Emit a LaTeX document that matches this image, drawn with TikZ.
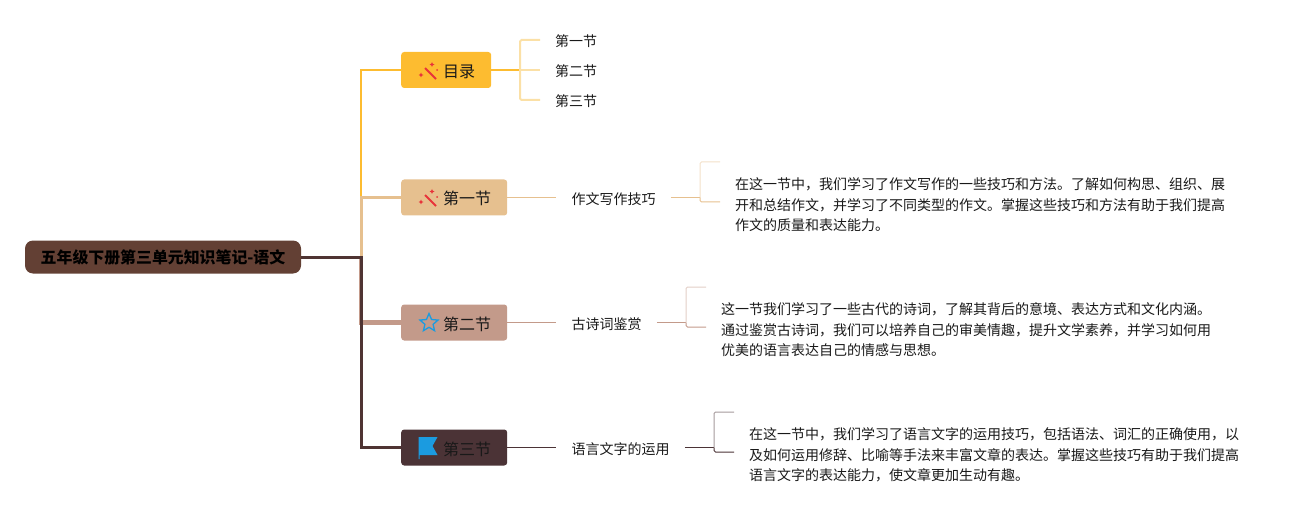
\documentclass[tikz,border=0pt]{standalone}
\usepackage{fontspec}
\usepackage{xcolor}
\usepackage{tikz}
\usetikzlibrary{shapes,positioning}
\setmainfont{Noto Sans CJK SC}
\definecolor{rootbrown}{HTML}{634034}
\definecolor{rootline}{HTML}{4F3433}
\definecolor{muluyellow}{HTML}{FDBC30}
\definecolor{mulupale}{HTML}{FBE0A6}
\definecolor{onetan}{HTML}{E6C08F}
\definecolor{onepale}{HTML}{F3E0C8}
\definecolor{twomauve}{HTML}{C39A8A}
\definecolor{twopale}{HTML}{E2CEC6}
\definecolor{threedark}{HTML}{4B3336}
\definecolor{threepale}{HTML}{A59A9B}
\definecolor{iconred}{HTML}{E8343A}
\definecolor{iconblue}{HTML}{1B9BE0}

\begin{document}
\begin{tikzpicture}[
x=1pt,y=-1pt,
rootnode/.style={rectangle, fill=rootbrown, rounded corners=8pt, minimum width=276pt, minimum height=33pt, inner sep=0pt, text height=14pt, text depth=2pt, font=\fontsize{15.9}{18}\selectfont\bfseries, text=black},
topicnode/.style={rectangle, fill=#1, rounded corners=3pt, minimum height=36pt, inner ysep=0pt, inner xsep=15pt, text height=17pt, text depth=2pt, font=\fontsize{16}{18}\selectfont, text=black!90, execute at begin node={\hskip27pt}, execute at end node={\hskip1pt}},
leafnode/.style={inner xsep=15pt, inner ysep=2pt, text height=16.3pt, text depth=1.7pt, font=\fontsize{14}{16}\selectfont, text=black!90},
textnode/.style={inner sep=0pt, align=left, font=\fontsize{14}{20.5}\selectfont, text=black!90},
spine/.style={draw=#1, line width=3pt},
link/.style={draw=#1, line width=1pt},
bracket/.style={draw=#1, line width=1pt, rounded corners=1.5pt},
pics/wandicon/.style={code={
  \draw[iconred, line width=2pt] (-3,-3) -- (8,8);
  \fill[iconred] (4,-9) -- (4.8,-7.3) -- (6.5,-6.5) -- (4.8,-5.7) -- (4,-4) -- (3.2,-5.7) -- (1.5,-6.5) -- (3.2,-7.3) -- cycle;
  \fill[iconred] (-7,1.5) -- (-6.2,3.2) -- (-4.5,4) -- (-6.2,4.8) -- (-7,6.5) -- (-7.8,4.8) -- (-9.5,4) -- (-7.8,3.2) -- cycle;
  \fill[iconred] (9,-2) -- (10,-1) -- (9,0) -- (8,-1) -- cycle;
}},
pics/flagicon/.style={code={
  \fill[iconblue] (-9.5,-10) -- (9.5,-10) -- (4.5,-1) -- (9.5,8) -- (-8.5,8) -- (-8.5,12) -- (-9.5,12) -- cycle;
}},
]
\useasboundingbox (0,0) rectangle (1309,513);
%Nodes
\node[rootnode](Root) at (163,257){五年级下册第三单元知识笔记-语文};
\coordinate (Spine) at (361,257);
\node[topicnode=muluyellow, anchor=west](Mulu) at (401,70){目录};
\node[topicnode=onetan, anchor=west](SecOne) at (401,197.5){第一节};
\node[topicnode=twomauve, anchor=west](SecTwo) at (401,322.5){第二节};
\node[topicnode=threedark, anchor=west](SecThree) at (401,447.5){第三节};
%Icons
\pic at (428,71) {wandicon};
\pic at (428,198) {wandicon};
\node[star, star points=5, star point ratio=2.2, draw=iconblue, line width=1.3pt, minimum size=19pt, inner sep=0pt](StarIcon) at (429,323){};
\pic at (428,447) {flagicon};
%Contents list
\coordinate (MuluFork) at (520,70);
\node[leafnode, anchor=west](MuluOne) at (540,39){第一节};
\node[leafnode, anchor=west](MuluTwo) at (540,69){第二节};
\node[leafnode, anchor=west](MuluThree) at (540,99){第三节};
\coordinate (MuluOneEnd) at (540,40);
\coordinate (MuluTwoEnd) at (540,70);
\coordinate (MuluThreeEnd) at (540,100);
%Section one
\node[leafnode, right=49pt of SecOne](SkillOne){作文写作技巧};
\coordinate (ForkOne) at (700,197.5);
\coordinate (ForkOneTop) at (720,162);
\coordinate (ForkOneLow) at (720,202);
\node[textnode, anchor=west](NoteOne) at (735,205){在这一节中，我们学习了作文写作的一些技巧和方法。了解如何构思、组织、展\\开和总结作文，并学习了不同类型的作文。掌握这些技巧和方法有助于我们提高\\作文的质量和表达能力。};
%Section two
\node[leafnode, right=49pt of SecTwo](SkillTwo){古诗词鉴赏};
\coordinate (ForkTwo) at (686,322.5);
\coordinate (ForkTwoTop) at (706,287);
\coordinate (ForkTwoLow) at (706,327);
\node[textnode, anchor=west](NoteTwo) at (721,330){这一节我们学习了一些古代的诗词，了解其背后的意境、表达方式和文化内涵。\\通过鉴赏古诗词，我们可以培养自己的审美情趣，提升文学素养，并学习如何用\\优美的语言表达自己的情感与思想。};
%Section three
\node[leafnode, right=49pt of SecThree](SkillThree){语言文字的运用};
\coordinate (ForkThree) at (714,447.5);
\coordinate (ForkThreeTop) at (734,412);
\coordinate (ForkThreeLow) at (734,452);
\node[textnode, anchor=west](NoteThree) at (749,455){在这一节中，我们学习了语言文字的运用技巧，包括语法、词汇的正确使用，以\\及如何运用修辞、比喻等手法来丰富文章的表达。掌握这些技巧有助于我们提高\\语言文字的表达能力，使文章更加生动有趣。};
%Connectors
\draw[spine=muluyellow, line width=2.2pt] (Spine) |- (Mulu.west);
\draw[spine=onetan] (Spine) |- (SecOne.west);
\draw[spine=twomauve, line width=4.5pt] (Spine) |- (SecTwo.west);
\draw[spine=rootline] (Root.east) -- (Spine) |- (SecThree.west);
\draw[link=muluyellow, line width=2pt] (Mulu.east) -- (MuluFork);
\draw[bracket=mulupale, line width=2pt] (MuluOneEnd) -| (MuluFork) |- (MuluThreeEnd);
\draw[link=mulupale, line width=2pt] (MuluFork) -- (MuluTwoEnd);
\draw[link=onetan] (SecOne.east) -- (SkillOne.west);
\draw[link=onetan] (SkillOne.east) -- (ForkOne);
\draw[bracket=onepale] (ForkOne) |- (ForkOneTop);
\draw[bracket=onetan] (ForkOne) |- (ForkOneLow);
\draw[link=twomauve] (SecTwo.east) -- (SkillTwo.west);
\draw[link=twomauve] (SkillTwo.east) -- (ForkTwo);
\draw[bracket=twopale] (ForkTwo) |- (ForkTwoTop);
\draw[bracket=twomauve] (ForkTwo) |- (ForkTwoLow);
\draw[link=threedark] (SecThree.east) -- (SkillThree.west);
\draw[link=threedark] (SkillThree.east) -- (ForkThree);
\draw[bracket=threepale] (ForkThree) |- (ForkThreeTop);
\draw[bracket=threedark] (ForkThree) |- (ForkThreeLow);
\end{tikzpicture}
\end{document}
